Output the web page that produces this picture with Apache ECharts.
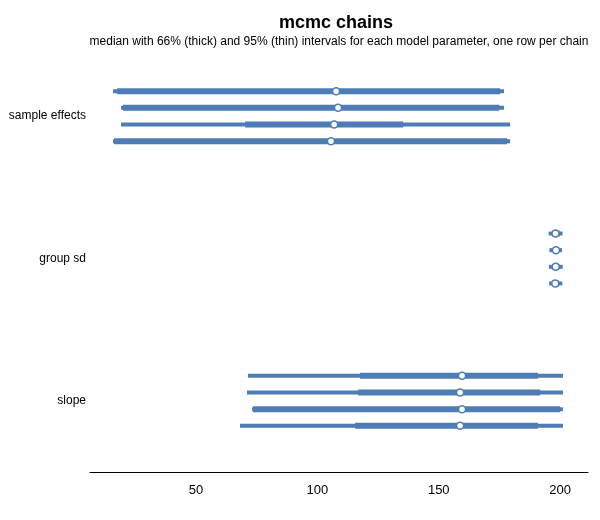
<!DOCTYPE html>
<html>
<head>
<meta charset="utf-8">
<script src="https://cdn.jsdelivr.net/npm/echarts@6/dist/echarts.min.js"></script>
<style>html,body{margin:0;padding:0;background:#fff}#main{width:600px;height:520px}</style>
</head>
<body>
<div id="main"></div>
<script>
// Categories (top to bottom) and chains (one row each within a category)
const categories = ['sample effects', 'group sd', 'slope'];
const chains = ['chain 1', 'chain 2', 'chain 3', 'chain 4'];
const tickValues = [50, 100, 150, 200];

// Values indexed [chain][category]
const lo95   = [[15.8, 195.3, 71.4], [19.1, 195.6, 71.0], [19.1, 195.4, 73.1], [15.8, 195.5, 68.1]];
const lo66   = [[17.5, 196.9, 117.6], [19.9, 197.0, 116.8], [70.2, 196.8, 73.5], [16.2, 196.9, 115.5]];
const median = [[107.7, 198.1, 159.6], [108.5, 198.3, 158.8], [106.9, 198.2, 159.6], [105.6, 198.0, 158.8]];
const hi66   = [[175.3, 199.8, 190.9], [174.9, 199.6, 191.8], [135.3, 199.7, 200.0], [178.2, 199.5, 190.9]];
const hi95   = [[176.9, 201.0, 201.2], [176.9, 200.8, 201.2], [179.4, 201.1, 201.2], [179.4, 200.9, 201.2]];

const BLUE = '#4e7cb4';

function renderItem(params, api) {
  const cat = api.value(5);
  const band = api.size([0, 1])[1];
  const off = (params.seriesIndex - 1.5) * band * 0.117;
  const yc = api.coord([api.value(2), cat])[1] + off;
  const x95a = api.coord([api.value(0), cat])[0];
  const x66a = api.coord([api.value(1), cat])[0];
  const xm = api.coord([api.value(2), cat])[0];
  const x66b = api.coord([api.value(3), cat])[0];
  const x95b = api.coord([api.value(4), cat])[0];
  return {
    type: 'group',
    children: [
      { type: 'line', shape: { x1: x95a, y1: yc, x2: x95b, y2: yc }, style: { stroke: BLUE, lineWidth: 4 } },
      { type: 'line', shape: { x1: x66a, y1: yc, x2: x66b, y2: yc }, style: { stroke: BLUE, lineWidth: 6 } },
      { type: 'circle', shape: { cx: xm, cy: yc, r: 3.5 }, style: { fill: '#ffffff', stroke: BLUE, lineWidth: 1.5 } }
    ]
  };
}

const series = chains.map((name, ci) => ({
  type: 'custom',
  name: name,
  renderItem: renderItem,
  encode: { x: [0, 1, 2, 3, 4], y: 5 },
  data: categories.map((c, k) => [lo95[ci][k], lo66[ci][k], median[ci][k], hi66[ci][k], hi95[ci][k], k])
}));

const chart = echarts.init(document.getElementById('main'), null, { renderer: 'canvas' });
chart.setOption({
  animation: false,
  backgroundColor: '#ffffff',
  textStyle: { fontFamily: 'Liberation Sans' },
  title: [
    { text: 'mcmc chains', left: 331, top: 9, textAlign: 'center',
      textStyle: { fontSize: 18, fontWeight: 'bold', color: '#000', fontFamily: 'Liberation Sans' } },
    { text: 'median with 66% (thick) and 95% (thin) intervals for each model parameter, one row per chain',
      left: 334, top: 31, textAlign: 'center',
      textStyle: { fontSize: 12, fontWeight: 'normal', color: '#000', fontFamily: 'Liberation Sans' } }
  ],
  grid: { left: 90, right: 12, top: 45, bottom: 48, containLabel: false },
  xAxis: {
    type: 'value', min: 6.3, max: 211.5,
    axisLine: { show: true, lineStyle: { color: '#000', width: 1 } },
    axisTick: { show: false },
    splitLine: { show: false },
    axisLabel: { customValues: tickValues, color: '#000', fontSize: 13, margin: 12, fontFamily: 'Liberation Sans' }
  },
  yAxis: {
    type: 'category', data: categories, inverse: true,
    axisLine: { show: false }, axisTick: { show: false }, splitLine: { show: false },
    axisLabel: { color: '#000', fontSize: 12, margin: 4, fontFamily: 'Liberation Sans' }
  },
  series: series
});
</script>
</body>
</html>
